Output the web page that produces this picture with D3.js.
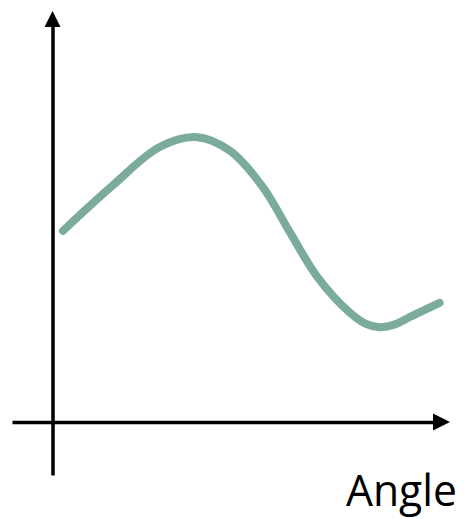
<!DOCTYPE html>
<html>
<head>
<meta charset="utf-8">
<script src="https://cdn.jsdelivr.net/npm/d3@7"></script>
<style>
  html, body { margin: 0; padding: 0; background: #ffffff; }
  svg { display: block; }
</style>
</head>
<body>
<div id="chart"></div>
<script>
// ---- data (abstract units) ----
const angles = [10, 55, 99, 133, 163, 193, 218, 243, 273, 287, 300, 314, 328, 355];
const values = [4.78, 5.90, 6.88, 7.12, 6.78, 5.88, 4.74, 3.63, 2.73, 2.46, 2.37, 2.44, 2.63, 2.98];
const xAxisLabel = "Angle";

const W = 464, H = 519;
const svg = d3.select("#chart").append("svg").attr("width", W).attr("height", H);

const x = d3.scaleLinear().domain([0, 360]).range([52, 445]);
const y = d3.scaleLinear().domain([0, 10]).range([422, 22]);

// axis scales: same mapping, extended extents for the drawn axis lines
const xAxisScale = x.copy().domain([x.invert(12), x.invert(436)]).range([12, 436]);
const yAxisScale = y.copy().domain([y.invert(475), y.invert(24)]).range([475, 24]);

const xAxisG = svg.append("g")
  .attr("transform", `translate(0,${y(0)})`)
  .call(d3.axisBottom(xAxisScale).ticks(0).tickSizeOuter(0));
const yAxisG = svg.append("g")
  .attr("transform", `translate(${x(0) + 0.5},0)`)
  .call(d3.axisLeft(yAxisScale).ticks(0).tickSizeOuter(0));
[xAxisG, yAxisG].forEach(g => {
  g.select(".domain").attr("stroke", "#000").attr("stroke-width", 3.5);
  g.selectAll("text").remove();
});

// arrow heads
const xTip = 450, yTip = 11;
svg.append("path")
  .attr("d", `M${xTip},${y(0)} L${xTip - 17},${y(0) - 8.5} L${xTip - 17},${y(0) + 8.5} Z`)
  .attr("fill", "#000");
svg.append("path")
  .attr("d", `M${x(0) + 0.5},${yTip} L${x(0) + 0.5 - 8},${yTip + 16} L${x(0) + 0.5 + 8},${yTip + 16} Z`)
  .attr("fill", "#000");

// curve
const data = angles.map((a, i) => ({ a, v: values[i] }));
const line = d3.line()
  .x(d => x(d.a))
  .y(d => y(d.v))
  .curve(d3.curveCatmullRom.alpha(0.5));
svg.append("path")
  .datum(data)
  .attr("d", line)
  .attr("fill", "none")
  .attr("stroke", "#7aab9c")
  .attr("stroke-width", 8)
  .attr("stroke-linecap", "round")
  .attr("stroke-linejoin", "round");

// label
svg.append("text")
  .attr("x", 346)
  .attr("y", 506)
  .attr("font-family", "'Open Sans', sans-serif")
  .attr("font-size", 44)
  .attr("textLength", 111)
  .attr("lengthAdjust", "spacingAndGlyphs")
  .attr("fill", "#000")
  .text(xAxisLabel);
</script>
</body>
</html>
